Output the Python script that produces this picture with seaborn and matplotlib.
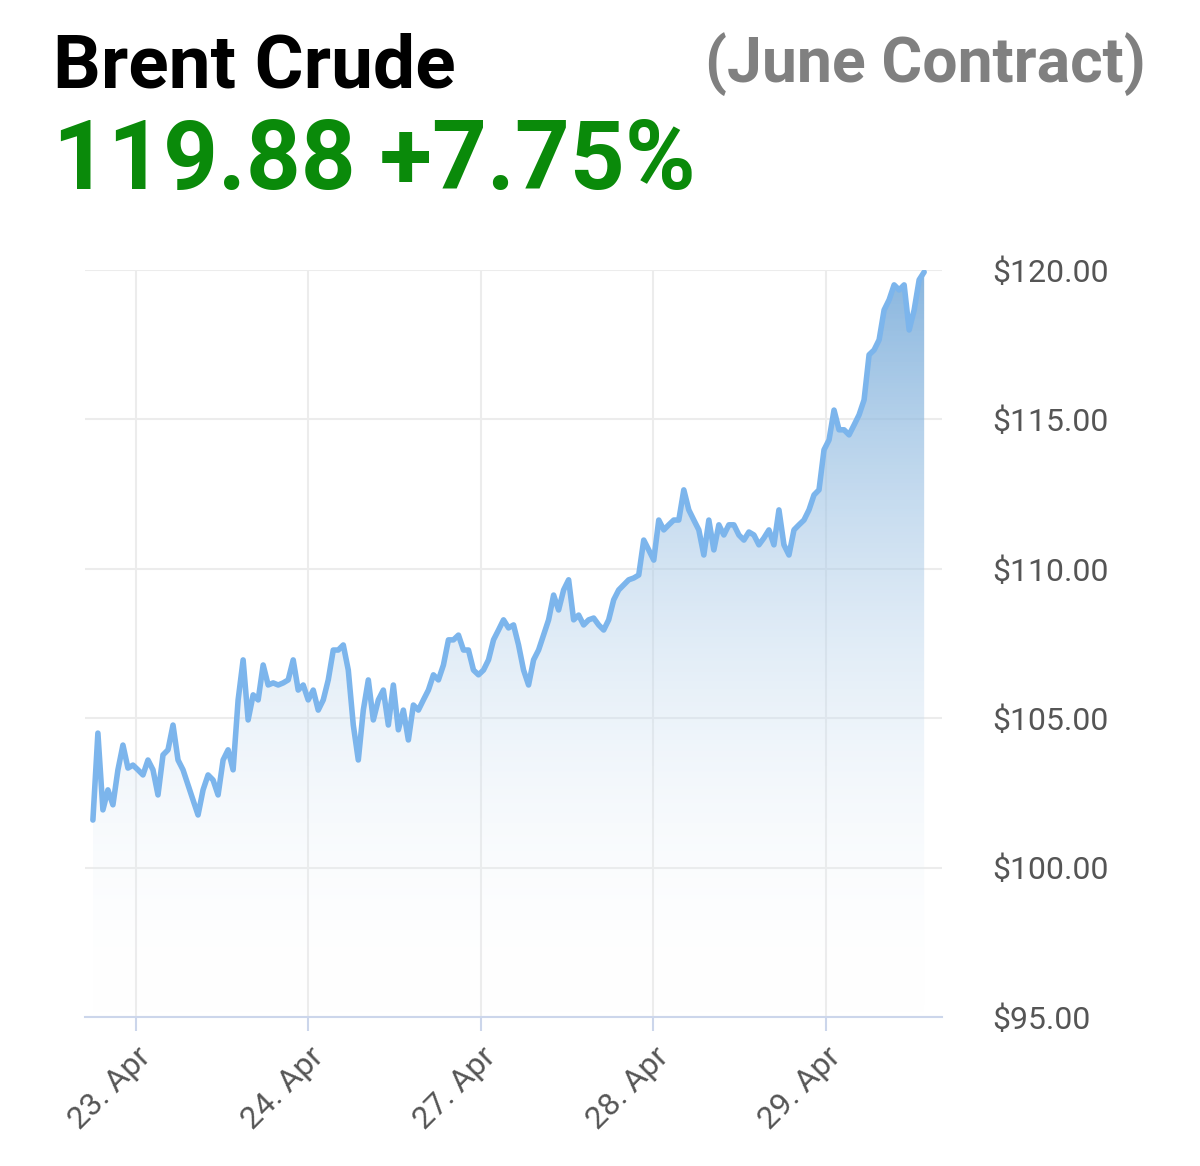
import numpy as np
import pandas as pd
import matplotlib
matplotlib.use("Agg")
import matplotlib.pyplot as plt
import seaborn as sns
from matplotlib.patches import Polygon
from matplotlib.colors import LinearSegmentedColormap

sns.set_theme(style="white")
plt.rcParams['font.family'] = ['Roboto', 'DejaVu Sans']

prices = [101.59,104.50,101.93,102.60,102.10,103.27,104.10,103.33,103.43,103.27,103.10,103.60,103.27,102.43,103.77,
103.94,104.77,103.60,103.27,102.76,102.26,101.76,102.60,103.10,102.93,102.43,103.60,103.94,103.27,105.61,106.95,
104.94,105.78,105.61,106.78,106.11,106.18,106.11,106.18,106.28,106.95,105.94,106.11,105.61,105.94,105.27,105.61,
106.28,107.28,107.28,107.45,106.61,104.77,103.60,105.27,106.28,104.94,105.61,105.94,104.77,106.11,104.61,105.27,
104.27,105.44,105.27,105.61,105.94,106.45,106.28,106.78,107.62,107.62,107.78,107.28,107.28,106.61,106.45,106.61,
106.95,107.62,107.95,108.29,108.02,108.12,107.45,106.61,106.11,106.95,107.28,107.78,108.29,109.12,108.62,109.29,
109.63,108.29,108.45,108.12,108.29,108.35,108.12,107.95,108.29,108.96,109.29,109.46,109.63,109.69,109.79,110.96,
110.63,110.29,111.63,111.30,111.47,111.63,111.63,112.64,111.97,111.63,111.30,110.46,111.63,110.63,111.47,111.13,
111.47,111.47,111.13,110.96,111.23,111.13,110.80,111.03,111.30,110.80,111.97,110.80,110.46,111.30,111.47,111.63,
111.97,112.47,112.64,113.98,114.31,115.31,114.65,114.65,114.48,114.81,115.15,115.65,117.16,117.32,117.66,118.66,
119.00,119.50,119.33,119.50,117.99,118.66,119.67,119.93]
start_day, end_day = -0.25, 4.57
day_labels = ["23. Apr", "24. Apr", "27. Apr", "28. Apr", "29. Apr"]
y_ticks = [95, 100, 105, 110, 115, 120]

t = np.linspace(start_day, end_day, len(prices))
df = pd.DataFrame({"t": t, "price": prices})

fig = plt.figure(figsize=(12, 11.66), dpi=100)
ax = fig.add_axes([0.0708, 0.1278, 0.714, 0.6407])
ax.set_xlim(-0.296, 4.672)
ax.set_ylim(95, 120)

grad = np.linspace(0, 1, 256).reshape(-1, 1)
cmap = LinearSegmentedColormap.from_list("g", [(1, 1, 1, 0.0), (0.45, 0.66, 0.85, 0.85)])
img = ax.imshow(grad, aspect='auto', cmap=cmap, origin='lower',
                extent=[start_day, end_day, 95, 120], zorder=1)
verts = [(start_day, 95)] + list(zip(t, prices)) + [(end_day, 95)]
poly = Polygon(verts, closed=True, facecolor='none', edgecolor='none')
ax.add_patch(poly)
img.set_clip_path(poly)

sns.lineplot(data=df, x="t", y="price", ax=ax, color="#7cb5ec", linewidth=4, zorder=3)

ax.set_xticks(range(len(day_labels)))
ax.set_xticklabels(day_labels, rotation=45, ha='right', rotation_mode='anchor',
                   fontsize=23, color='#555555')
ax.set_yticks(y_ticks)
ax.set_yticklabels([f"${v:.2f}" for v in y_ticks], fontsize=23, color='#555555')
ax.yaxis.tick_right()
ax.tick_params(axis='y', length=0, pad=36)
ax.tick_params(axis='x', length=10, width=1.5, color='#ccd6eb', pad=8, bottom=True)
ax.grid(True, color='#ececec', linewidth=1.5)
ax.set_axisbelow(True)
for s in ['top', 'right', 'left']:
    ax.spines[s].set_visible(False)
ax.spines['bottom'].set_color('#ccd6eb')
ax.spines['bottom'].set_linewidth(1.5)
ax.set_xlabel("")
ax.set_ylabel("")

fig.text(0.044, 0.925, "Brent Crude", fontsize=54, fontweight='bold', color='black')
fig.text(0.955, 0.930, "(June Contract)", fontsize=45, fontweight='bold', color='#808080', ha='right')
fig.text(0.044, 0.838, "119.88 +7.75%", fontsize=69, fontweight='bold', color='#0a8a0a')

fig.savefig("out.png", dpi=100)
